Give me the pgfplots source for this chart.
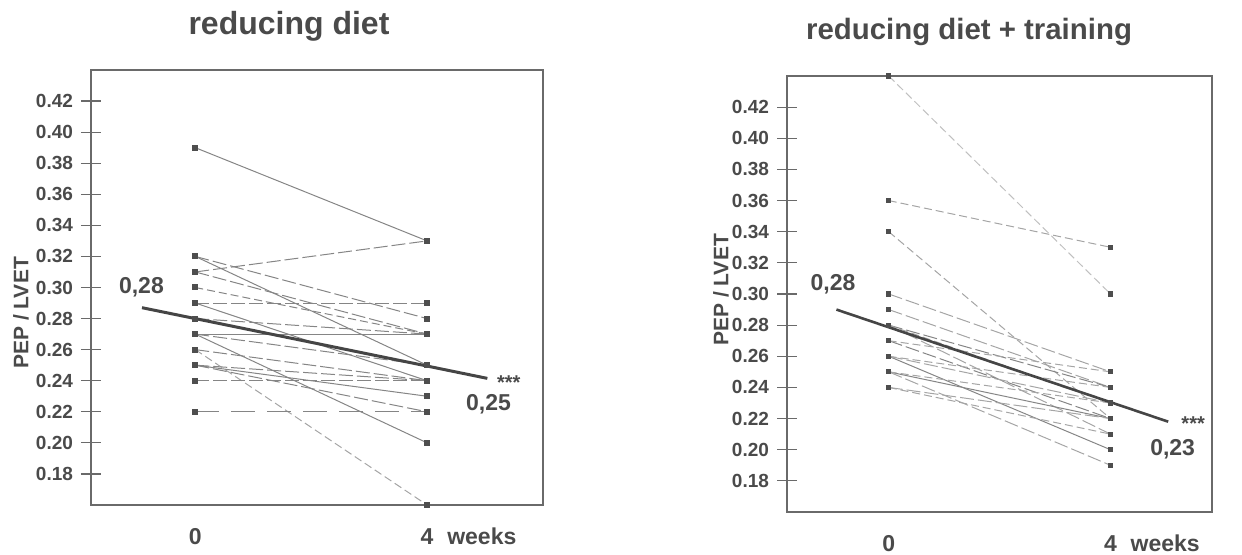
\documentclass[border=0pt]{standalone}
\usepackage{pgfplots}
\pgfplotsset{compat=1.18}
\usepackage{fontspec}
\setmainfont{Liberation Sans}
\definecolor{txt}{HTML}{4A4A4A}
\definecolor{ax}{HTML}{6A6A6A}
\definecolor{indiv}{HTML}{858585}
\definecolor{indivR}{HTML}{A5A5A5}
\definecolor{meanc}{HTML}{454545}
\definecolor{mk}{HTML}{4E4E4E}

\tikzset{
  ann/.style={font=\fontsize{11.5bp}{13bp}\selectfont\bfseries, text=txt, inner sep=0pt},
  star/.style={font=\fontsize{10bp}{12bp}\selectfont\bfseries, text=txt, inner sep=0pt},
}
\pgfplotsset{
  panel/.style={
    scale only axis, clip=false,
    ymin=0.16, ymax=0.44,
    ytick={0.18,0.20,0.22,0.24,0.26,0.28,0.30,0.32,0.34,0.36,0.38,0.40,0.42},
    yticklabels={0.18,0.20,0.22,0.24,0.26,0.28,0.30,0.32,0.34,0.36,0.38,0.40,0.42},
    xtick={0,4},
    xticklabels={0,{4\rlap{\hspace{0.6em}weeks}}},
    ytick pos=left, xtick pos=bottom,
    tick align=center, major tick length=10bp,
    ytick style={color=ax, line width=0.6bp},
    xtick style={draw=none},
    axis line style={color=ax, line width=0.6bp},
    yticklabel style={font=\fontsize{9.5bp}{11bp}\selectfont\bfseries, text=txt, anchor=east, xshift=-0.5bp},
    xticklabel style={font=\fontsize{11.5bp}{13bp}\selectfont\bfseries, text=txt, anchor=base, yshift=-14.5bp},
  },
  ind/.style={color=indiv, line width=0.5bp, mark=square*, mark size=1.25bp, mark options={fill=mk, draw=mk, solid}},
  indR/.style={color=indivR, line width=0.5bp, mark=square*, mark size=1.05bp, mark options={fill=mk, draw=mk, solid}},
  dsh/.style={dash pattern=on 7bp off 2bp},
  dsh2/.style={dash pattern=on 4bp off 2bp},
  meanline/.style={color=meanc, line width=1.5bp, no marks},
}

\begin{document}
\begin{tikzpicture}
\path[use as bounding box] (0,0) rectangle (621bp,277.5bp);

% ---------------- left panel ----------------
\begin{axis}[panel, at={(45.5bp,25bp)}, anchor=south west,
  width=226bp, height=217.5bp, xmin=-1.8, xmax=6.0]
\addplot[ind] coordinates {(0,0.39) (4,0.33)};
\addplot[ind,dsh] coordinates {(0,0.31) (4,0.33)};
\addplot[ind,dsh] coordinates {(0,0.32) (4,0.28)};
\addplot[ind] coordinates {(0,0.32) (4,0.25)};
\addplot[ind,dsh] coordinates {(0,0.31) (4,0.27)};
\addplot[ind,dsh2] coordinates {(0,0.30) (4,0.27)};
\addplot[ind,dsh] coordinates {(0,0.29) (4,0.29)};
\addplot[ind] coordinates {(0,0.29) (4,0.24)};
\addplot[ind,dsh] coordinates {(0,0.28) (4,0.27)};
\addplot[ind] coordinates {(0,0.27) (4,0.27)};
\addplot[ind] coordinates {(0,0.27) (4,0.20)};
\addplot[ind,dsh] coordinates {(0,0.27) (4,0.25)};
\addplot[ind,dsh2,color=indivR] coordinates {(0,0.26) (4,0.16)};
\addplot[ind,dsh] coordinates {(0,0.26) (4,0.24)};
\addplot[ind] coordinates {(0,0.25) (4,0.23)};
\addplot[ind,dsh] coordinates {(0,0.25) (4,0.22)};
\addplot[ind,dsh] coordinates {(0,0.25) (4,0.24)};
\addplot[ind,dsh] coordinates {(0,0.24) (4,0.24)};
\addplot[ind,dash pattern=on 12bp off 6bp] coordinates {(0,0.22) (4,0.22)};
\addplot[meanline] coordinates {(-0.92,0.287) (5.04,0.2415)};
\node[ann] at (axis cs:-0.93,0.300) {0,28};
\node[star] at (axis cs:5.41,0.2385) {***};
\node[ann] at (axis cs:5.06,0.225) {0,25};
\end{axis}

% ---------------- right panel ----------------
\begin{axis}[panel, at={(393.5bp,21.5bp)}, anchor=south west,
  width=212.5bp, height=218bp, xmin=-1.835, xmax=5.83]
\addplot[indR,dsh2,color=indivR!70] coordinates {(0,0.44) (4,0.30)};
\addplot[indR,dsh2] coordinates {(0,0.36) (4,0.33)};
\addplot[indR,dsh2] coordinates {(0,0.34) (4,0.22)};
\addplot[indR,dsh] coordinates {(0,0.30) (4,0.25)};
\addplot[indR,dsh] coordinates {(0,0.29) (4,0.24)};
\addplot[indR,dsh,color=indiv] coordinates {(0,0.28) (4,0.24)};
\addplot[indR,dsh2] coordinates {(0,0.28) (4,0.23)};
\addplot[indR,dsh] coordinates {(0,0.28) (4,0.21)};
\addplot[indR,dsh,color=indiv] coordinates {(0,0.27) (4,0.22)};
\addplot[indR,dsh2] coordinates {(0,0.27) (4,0.25)};
\addplot[indR,color=indiv] coordinates {(0,0.26) (4,0.20)};
\addplot[indR,dsh] coordinates {(0,0.26) (4,0.23)};
\addplot[indR,dsh2] coordinates {(0,0.26) (4,0.24)};
\addplot[indR,color=indiv] coordinates {(0,0.25) (4,0.22)};
\addplot[indR,dsh] coordinates {(0,0.25) (4,0.19)};
\addplot[indR,dsh2] coordinates {(0,0.25) (4,0.23)};
\addplot[indR,dsh] coordinates {(0,0.24) (4,0.22)};
\addplot[indR,dsh2] coordinates {(0,0.24) (4,0.21)};
\addplot[meanline, line width=1.3bp] coordinates {(-0.944,0.290) (5.04,0.218)};
\node[ann] at (axis cs:-1.005,0.3065) {0,28};
\node[star] at (axis cs:5.49,0.2165) {***};
\node[ann] at (axis cs:5.12,0.200) {0,23};
\end{axis}

% titles and axis labels
\node[font=\fontsize{16bp}{19bp}\selectfont\bfseries, text=txt, anchor=base] at (144.5bp,260bp) {reducing diet};
\node[font=\fontsize{14.7bp}{18bp}\selectfont\bfseries, text=txt, anchor=base] at (484.5bp,257.5bp) {reducing diet + training};
\node[font=\fontsize{10.5bp}{12bp}\selectfont\bfseries, text=txt, rotate=90] at (10.5bp,121bp) {PEP / LVET};
\node[font=\fontsize{10.5bp}{12bp}\selectfont\bfseries, text=txt, rotate=90] at (360.5bp,132.5bp) {PEP / LVET};
\end{tikzpicture}
\end{document}
